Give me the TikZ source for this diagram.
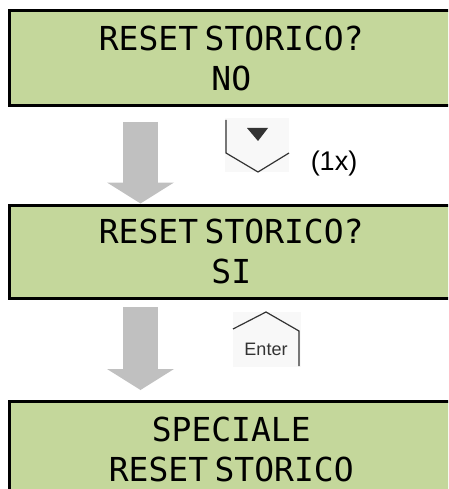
\documentclass[tikz,border=0pt]{standalone}
\usepackage{fontspec}
\setmainfont{Liberation Sans}
\newfontfamily\lcdfont{DejaVu Sans Mono}
\usetikzlibrary{arrows.meta}
\definecolor{lcdgreen}{RGB}{196,215,155}
\definecolor{arrowgray}{RGB}{192,192,192}
\definecolor{keyline}{RGB}{51,51,51}
\definecolor{keybg}{RGB}{248,248,248}
% narrow gap between words on the display
\newcommand{\lcdgap}{\hspace{6.5pt}}

\begin{document}
\begin{tikzpicture}[x=1pt, y=-1pt,
    lcd/.style={shape=rectangle, draw=black, line width=3pt, fill=lcdgreen, anchor=north west, minimum width=444.5pt, inner sep=0pt, align=center, font=\lcdfont\fontsize{33}{40}\selectfont},
    bigarrow/.style={draw=arrowgray, line width=35pt, -{Triangle[width=67pt, length=21pt, line width=0pt]}},
    keypad/.style={shape=rectangle, fill=keybg, inner sep=0pt},
    keyedge/.style={draw=keyline, line width=1.2pt, line join=miter}]
    \useasboundingbox (0, 0) rectangle (448, 489);
    \clip (0, 0) rectangle (448, 489);
    \node[name=lcdA, lcd, minimum height=95pt] at (7.5, 9.5) {RESET\lcdgap STORICO?\\NO};
    \node[name=lcdB, lcd, minimum height=93pt] at (7.5, 203.5) {RESET\lcdgap STORICO?\\SI};
    \node[name=lcdC, lcd, minimum height=96pt] at (7.5, 399.5) {SPECIALE\\RESET\lcdgap STORICO};
    \coordinate (axis) at (140.5, 0);
    \draw[bigarrow, shorten <=14.5pt] (lcdA.south -| axis) -- (lcdB.north -| axis);
    \draw[bigarrow, shorten <=7.5pt, shorten >=9.5pt] (lcdB.south -| axis) -- (lcdC.north -| axis);
    % down key, pressed once
    \node[name=keyDown, keypad, minimum width=64pt, minimum height=54pt] at (257, 145) {};
    \draw[keyedge, shift={(keyDown.center)}] (-31, -25) -- (-31, 8) -- (1, 27) -- (32, 8);
    \fill[keyline, shift={(keyDown.center)}] (-10, -17) -- (11, -17) -- (1, -4) -- cycle;
    \node[name=times, font=\fontsize{27}{30}\selectfont] at (334, 164) {(1x)};
    % enter key
    \node[name=keyEnter, keypad, minimum width=68pt, minimum height=55pt] at (266.5, 339) {};
    \draw[keyedge, shift={(keyEnter.center)}] (-33.5, -10) -- (-0.5, -27) -- (32.5, -8) -- (32.5, 27);
    \node[name=enterLbl, text=keyline, font=\fontsize{18}{20}\selectfont] at (266, 349) {Enter};
\end{tikzpicture}
\end{document}
